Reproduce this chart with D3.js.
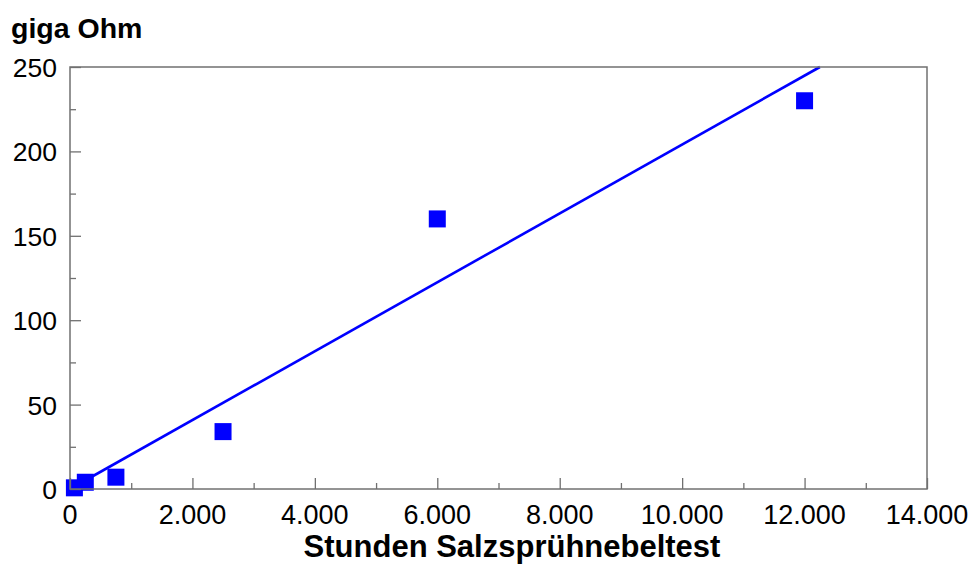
<!DOCTYPE html>
<html>
<head>
  <meta charset="utf-8">
  <title>giga Ohm</title>
  <script src="https://d3js.org/d3.v7.min.js"></script>
  <style>
    body { margin: 0; background: #fff; }
    text { font-family: "Liberation Sans", Arial, sans-serif; fill: #000; }
  </style>
</head>
<body>
  <svg id="chart"></svg>

  <script>
    // Messwerte
    var hours = [72, 250, 750, 2500, 6000, 12000];
    var gigaOhm = [0.7, 4, 7, 34, 160, 230];

    var trendHours = [0, 12250];
    var trendOhm = [0, 250];

    var xTicks = [0, 2000, 4000, 6000, 8000, 10000, 12000, 14000];
    var yTicks = [0, 50, 100, 150, 200, 250];

    var width = 974;
    var height = 567;
    var margin = { top: 67, right: 47, bottom: 78, left: 70 };

    var svg = d3.select("#chart")
                .attr("width", width)
                .attr("height", height);

    var x = d3.scaleLinear().domain([0, 14000]).range([margin.left, width - margin.right]);
    var y = d3.scaleLinear().domain([0, 250]).range([height - margin.bottom, margin.top]);

    var fmt = function(d) { return d3.format(",")(d).replace(/,/g, "."); };

    // Trendlinie
    var line = d3.line()
                 .x(d => x(d[0]))
                 .y(d => y(d[1]));
    svg.append("path")
       .datum(d3.zip(trendHours, trendOhm))
       .attr("d", line)
       .attr("fill", "none")
       .attr("stroke", "#0000ff")
       .attr("stroke-width", 2.6);

    // Punkte
    var size = 17;
    svg.append("g")
       .selectAll("rect")
       .data(d3.zip(hours, gigaOhm))
       .enter().append("rect")
       .attr("x", d => x(d[0]) - size / 2)
       .attr("y", d => y(d[1]) - size / 2)
       .attr("width", size)
       .attr("height", size)
       .attr("fill", "#0000ff");

    // Rahmen
    svg.append("rect")
       .attr("x", x(0))
       .attr("y", y(250))
       .attr("width", x(14000) - x(0))
       .attr("height", y(0) - y(250))
       .attr("fill", "none")
       .attr("stroke", "#707070")
       .attr("stroke-width", 1.5);

    // y-Achse, Striche nach innen
    var yAxis = d3.axisRight(y)
                  .tickValues(yTicks)
                  .tickSize(11)
                  .tickFormat("");
    svg.append("g")
       .attr("transform", "translate(" + x(0) + ",0)")
       .call(yAxis)
       .call(g => g.select(".domain").remove())
       .call(g => g.selectAll("line").attr("stroke", "#707070").attr("stroke-width", 1.3));

    var yMinor = d3.axisRight(y)
                   .tickValues(d3.range(25, 250, 50))
                   .tickSize(6)
                   .tickFormat("");
    svg.append("g")
       .attr("transform", "translate(" + x(0) + ",0)")
       .call(yMinor)
       .call(g => g.select(".domain").remove())
       .call(g => g.selectAll("line").attr("stroke", "#707070").attr("stroke-width", 1.3));

    svg.append("g")
       .selectAll("text")
       .data(yTicks)
       .enter().append("text")
       .attr("x", x(0) - 13)
       .attr("y", d => y(d) + 10)
       .attr("text-anchor", "end")
       .attr("font-size", 26.5)
       .text(d => d);

    // x-Achse
    var xAxis = d3.axisTop(x)
                  .tickValues(xTicks)
                  .tickSize(11)
                  .tickFormat("");
    svg.append("g")
       .attr("transform", "translate(0," + y(0) + ")")
       .call(xAxis)
       .call(g => g.select(".domain").remove())
       .call(g => g.selectAll("line").attr("stroke", "#707070").attr("stroke-width", 1.3));

    var xMinor = d3.axisTop(x)
                   .tickValues(d3.range(1000, 14000, 2000))
                   .tickSize(6)
                   .tickFormat("");
    svg.append("g")
       .attr("transform", "translate(0," + y(0) + ")")
       .call(xMinor)
       .call(g => g.select(".domain").remove())
       .call(g => g.selectAll("line").attr("stroke", "#707070").attr("stroke-width", 1.3));

    svg.append("g")
       .selectAll("text")
       .data(xTicks)
       .enter().append("text")
       .attr("x", d => x(d))
       .attr("y", y(0) + 35)
       .attr("text-anchor", "middle")
       .attr("font-size", 27)
       .text(fmt);

    // Titel
    svg.append("text")
       .attr("x", 11)
       .attr("y", 38)
       .attr("font-size", 28.5)
       .attr("font-weight", "bold")
       .text("giga Ohm");

    svg.append("text")
       .attr("x", 512)
       .attr("y", 557)
       .attr("text-anchor", "middle")
       .attr("font-size", 31)
       .attr("font-weight", "bold")
       .text("Stunden Salzsprühnebeltest");
  </script>
</body>
</html>
